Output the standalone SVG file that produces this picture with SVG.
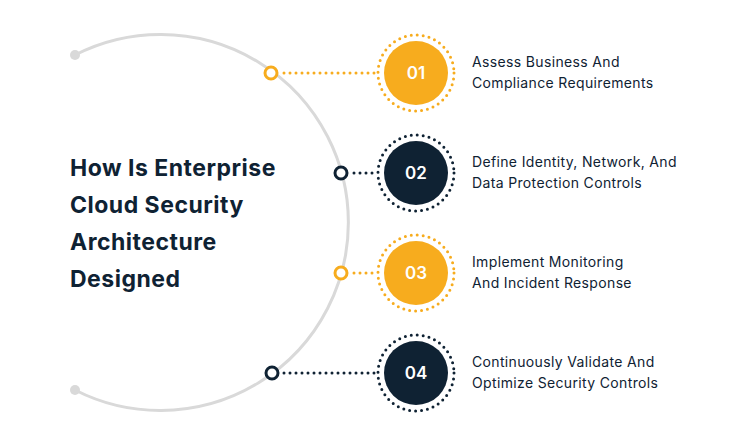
<svg xmlns="http://www.w3.org/2000/svg" width="754" height="446" viewBox="0 0 754 446">
<style>
.t{font-family:Inter,"Open Sans",sans-serif;font-weight:700;font-size:23px;letter-spacing:0.5px;fill:#0f2233}
.l{font-family:Inter,"Open Sans",sans-serif;font-size:14px;letter-spacing:0.35px;fill:#0f2233}
.n{font-family:Inter,"Open Sans",sans-serif;font-size:17px;font-weight:600;fill:#fff;text-anchor:middle}
.y{fill:#f7ac1e}.d{fill:#0f2233}
.ys{stroke:#f7ac1e}.ds{stroke:#0f2233}
.dot{stroke-width:3;stroke-dasharray:0 6;stroke-linecap:round;fill:none}
.ring{fill:#fff;stroke-width:3}
</style>
<rect width="754" height="446" fill="#fff"/>
<g id="arc">
<path d="M75 55 A188 188 0 1 1 75 390" fill="none" stroke="#d9d9d9" stroke-width="3"/>
<circle cx="75" cy="55" r="5" fill="#d9d9d9"/><circle cx="75" cy="390" r="5" fill="#d9d9d9"/>
</g>
<g id="title"><text class="t" x="70" y="176">How Is Enterprise</text><text class="t" x="70" y="213">Cloud Security</text><text class="t" x="70" y="250">Architecture</text><text class="t" x="70" y="287">Designed</text></g>
<g id="connectors">
<line class="dot ys" x1="284" y1="73" x2="378" y2="73"/>
<line class="dot ds" x1="354" y1="173" x2="378" y2="173"/>
<line class="dot ys" x1="354" y1="273" x2="378" y2="273"/>
<line class="dot ds" x1="284" y1="373" x2="378" y2="373"/>
</g>
<g id="s1"><circle class="ring ys" cx="271" cy="73" r="6"/><circle class="dot ys" cx="416" cy="73" r="38" stroke-width="2.5"/><circle class="y" cx="416" cy="73" r="32"/><text class="n" x="416" y="79">01</text><text class="l" x="472" y="67">Assess Business And</text><text class="l" x="472" y="88">Compliance Requirements</text></g>
<g id="s2"><circle class="ring ds" cx="341" cy="173" r="6"/><circle class="dot ds" cx="416" cy="173" r="38" stroke-width="2.5"/><circle class="d" cx="416" cy="173" r="32"/><text class="n" x="416" y="179">02</text><text class="l" x="472" y="167">Define Identity, Network, And</text><text class="l" x="472" y="188">Data Protection Controls</text></g>
<g id="s3"><circle class="ring ys" cx="341" cy="273" r="6"/><circle class="dot ys" cx="416" cy="273" r="38" stroke-width="2.5"/><circle class="y" cx="416" cy="273" r="32"/><text class="n" x="416" y="279">03</text><text class="l" x="472" y="267">Implement Monitoring</text><text class="l" x="472" y="288">And Incident Response</text></g>
<g id="s4"><circle class="ring ds" cx="272" cy="373" r="6"/><circle class="dot ds" cx="416" cy="373" r="38" stroke-width="2.5"/><circle class="d" cx="416" cy="373" r="32"/><text class="n" x="416" y="379">04</text><text class="l" x="472" y="367">Continuously Validate And</text><text class="l" x="472" y="388">Optimize Security Controls</text></g>
</svg>
